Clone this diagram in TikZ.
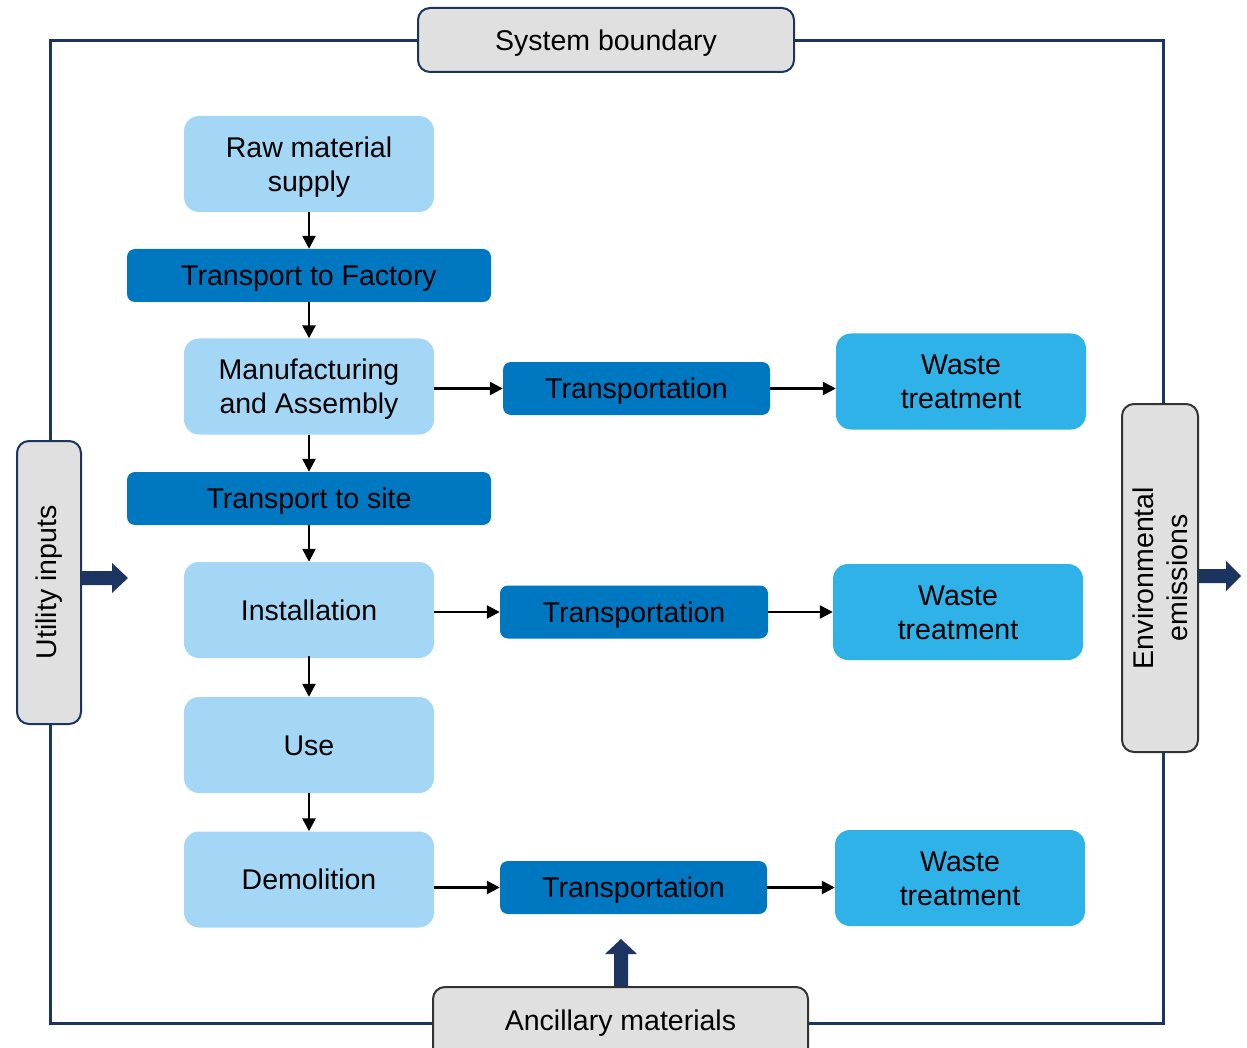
\documentclass[tikz,border=0pt]{standalone}
\usepackage{fontspec}
\setmainfont{Liberation Sans}
\usetikzlibrary{arrows.meta}
\definecolor{lightb}{HTML}{A3D7F5}
\definecolor{darkb}{HTML}{0078C1}
\definecolor{wasteb}{HTML}{2EB2E8}
\definecolor{greyf}{HTML}{E0E0E0}
\definecolor{navy}{HTML}{1B3560}
\tikzset{
  base/.style={inner sep=0pt, align=center, font=\fontsize{28.5}{34}\selectfont, text=black},
  one/.style={text height=25.8pt, text depth=5pt},
  two/.style={text height=59.8pt, text depth=5pt},
  lbox/.style={base, fill=lightb, rounded corners=15pt, minimum width=250pt, minimum height=96pt},
  dbox/.style={base, fill=darkb, rounded corners=8pt, minimum height=53pt},
  wbox/.style={base, fill=wasteb, rounded corners=15pt, minimum width=250pt, minimum height=96pt},
  gbox/.style={base, fill=greyf, draw=navy, line width=2pt, rounded corners=12pt},
  flow/.style={-{Triangle[length=13pt,width=13pt]}, line width=2.5pt, black},
  bigarrow/.style={fill=navy, draw=none}
}
\begin{document}
\begin{tikzpicture}[x=1pt,y=-1pt]
\useasboundingbox (0,0) rectangle (1247,1048);
\clip (0,0) rectangle (1247,1048);
% system boundary
\draw[navy, line width=3pt] (50,41) rectangle (1163,1023);
% label boxes
\node[gbox, one, minimum width=376pt, minimum height=64pt] (sb) at (606,40) {System boundary};
\node[gbox, minimum width=64pt, minimum height=283pt] (ui) at (49,582.5) {};
\node[base, rotate=90] (uit) at (ui.center) {Utility inputs};
\node[gbox, draw=black!80, minimum width=76pt, minimum height=348pt] (ee) at (1160,578) {};
\node[base, rotate=90] (eet) at (ee.center) {Environmental\\emissions};
\node[gbox, draw=black!80, minimum width=375pt, minimum height=80pt] (am) at (620.5,1027) {};
\node[base, one] (amt) at (620.5,1020) {Ancillary materials};
% main column
\node[lbox, two] (raw) at (309,164) {Raw material\\supply};
\node[dbox, one, minimum width=364pt] (tf) at (309,275.5) {Transport to Factory};
\node[lbox, two] (man) at (309,386.5) {Manufacturing\\and Assembly};
\node[dbox, one, minimum width=364pt] (ts) at (309,498.5) {Transport to site};
\node[lbox, one] (ins) at (309,610) {Installation};
\node[lbox, one] (use) at (309,745) {Use};
\node[lbox, one] (dem) at (309,879.5) {Demolition};
% right branches
\node[dbox, one, minimum width=267pt] (t1) at (636.5,388.5) {Transportation};
\node[wbox, two] (w1) at (961,381.5) {Waste\\treatment};
\node[dbox, one, minimum width=268pt] (t2) at (634,612) {Transportation};
\node[wbox, two] (w2) at (958,612) {Waste\\treatment};
\node[dbox, one, minimum width=267pt] (t3) at (633.5,887.5) {Transportation};
\node[wbox, two] (w3) at (960,878) {Waste\\treatment};
% vertical flow
\draw[flow] (raw.south) -- (tf.north);
\draw[flow] (tf.south) -- (man.north);
\draw[flow] (man.south) -- (ts.north);
\draw[flow] (ts.south) -- (ins.north);
\draw[flow] ([yshift=2pt]ins.south) -- (use.north);
\draw[flow] (use.south) -- (dem.north);
% horizontal flow
\draw[flow] (man.east |- t1.west) -- (t1.west);
\draw[flow] (t1.east) -- (w1.west |- t1.east);
\draw[flow] (ins.east |- t2.west) -- (t2.west);
\draw[flow] (t2.east) -- (w2.west |- t2.east);
\draw[flow] (dem.east |- t3.west) -- (t3.west);
\draw[flow] (t3.east) -- (w3.west |- t3.east);
% big navy arrows
\fill[bigarrow] (ui.east |- 0,571) -- (112,571) -- (112,563) -- (128,578) -- (112,593) -- (112,585) -- (ui.east |- 0,585) -- cycle;
\fill[bigarrow] (ee.east |- 0,569) -- (1226,569) -- (1226,561) -- (1241,576) -- (1226,591) -- (1226,583) -- (ee.east |- 0,583) -- cycle;
\fill[bigarrow] (am.north -| 614,0) -- (614,954) -- (605,954) -- (621,939) -- (637,954) -- (628,954) -- (am.north -| 628,0) -- cycle;
\end{tikzpicture}
\end{document}
